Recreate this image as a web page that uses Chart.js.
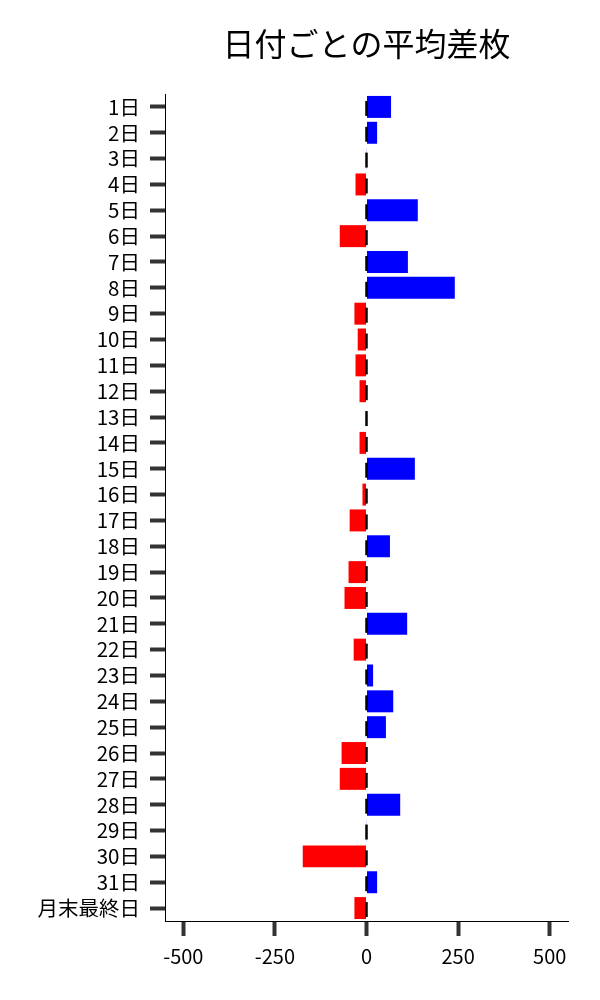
<!DOCTYPE html>
<html>
<head>
<meta charset="utf-8">
<script src="https://cdn.jsdelivr.net/npm/chart.js@4.4.0/dist/chart.umd.min.js"></script>
<style>
  html, body { margin: 0; padding: 0; background: #fff; }
  #wrap { width: 600px; height: 1000px; }
</style>
</head>
<body>
<div id="wrap"><canvas id="bar-chart"></canvas></div>
<script>
const titleText = '日付ごとの平均差枚';

const labels = ['1日', '2日', '3日', '4日', '5日', '6日', '7日', '8日', '9日', '10日',
    '11日', '12日', '13日', '14日', '15日', '16日', '17日', '18日', '19日', '20日',
    '21日', '22日', '23日', '24日', '25日', '26日', '27日', '28日', '29日', '30日',
    '31日', '月末最終日'];

const values = [67, 29, 1, -30, 140, -73, 113, 241, -33, -24,
    -30, -19, 0, -19, 132, -11, -46, 64, -49, -60,
    111, -35, 18, 73, 53, -68, -73, 92, 1, -174,
    29, -33];

const xTicks = [-500, -250, 0, 250, 500];

const fontFamily = '"Noto Sans CJK JP", "Noto Sans", sans-serif';

// 各バーの0位置に黒い短い線（エラーバー風）
const zeroMarks = {
    id: 'zeroMarks',
    afterDatasetsDraw(chart) {
        const ctx = chart.ctx;
        const xs = chart.scales.x;
        const ys = chart.scales.y;
        const x0 = xs.getPixelForValue(0);
        ctx.save();
        ctx.strokeStyle = '#000';
        ctx.lineWidth = 2.5;
        values.forEach((v, i) => {
            const yc = ys.getPixelForValue(i);
            ctx.beginPath();
            ctx.moveTo(x0, yc - 6);
            ctx.lineTo(x0, yc + 9);
            ctx.stroke();
        });
        ctx.restore();
    }
};

const topTitle = {
    id: 'topTitle',
    afterDraw(chart) {
        const ctx = chart.ctx;
        const a = chart.chartArea;
        ctx.save();
        ctx.fillStyle = '#000';
        ctx.font = '32px ' + fontFamily;
        ctx.textAlign = 'center';
        ctx.textBaseline = 'middle';
        ctx.fillText(titleText, (a.left + a.right) / 2, 44);
        ctx.restore();
    }
};

const data = {
    labels: labels,
    datasets: [{
        data: values,
        backgroundColor: values.map(v => v >= 0 ? '#0000ff' : '#ff0000'),
        borderWidth: 0,
        categoryPercentage: 1.0,
        barPercentage: 0.85
    }]
};

const config = {
    type: 'bar',
    data: data,
    plugins: [zeroMarks, topTitle],
    options: {
        indexAxis: 'y',
        responsive: true,
        maintainAspectRatio: false,
        animation: false,
        layout: { padding: { top: 94, right: 32, bottom: 0, left: 0 } },
        plugins: {
            legend: { display: false },
            tooltip: { enabled: false }
        },
        scales: {
            x: {
                min: -550,
                max: 550,
                afterBuildTicks(scale) {
                    scale.ticks = xTicks.map(v => ({ value: v }));
                },
                afterFit(scale) { scale.height = 79; },
                border: { display: true, color: '#000', width: 1 },
                grid: {
                    drawOnChartArea: false,
                    tickLength: 15,
                    tickWidth: 4,
                    tickColor: '#333'
                },
                ticks: {
                    color: '#000',
                    padding: 8,
                    maxRotation: 0,
                    font: { family: fontFamily, size: 20 }
                }
            },
            y: {
                afterFit(scale) { scale.width = 165; },
                border: { display: true, color: '#000', width: 1 },
                grid: {
                    offset: false,
                    drawOnChartArea: false,
                    tickLength: 15,
                    tickWidth: 4,
                    tickColor: '#333'
                },
                ticks: {
                    color: '#000',
                    padding: 10,
                    autoSkip: false,
                    font: { family: fontFamily, size: 20.5 }
                }
            }
        }
    }
};

const barChart = document.querySelector('#bar-chart');
if (barChart) {
    new Chart(barChart, config);
}
</script>
</body>
</html>
